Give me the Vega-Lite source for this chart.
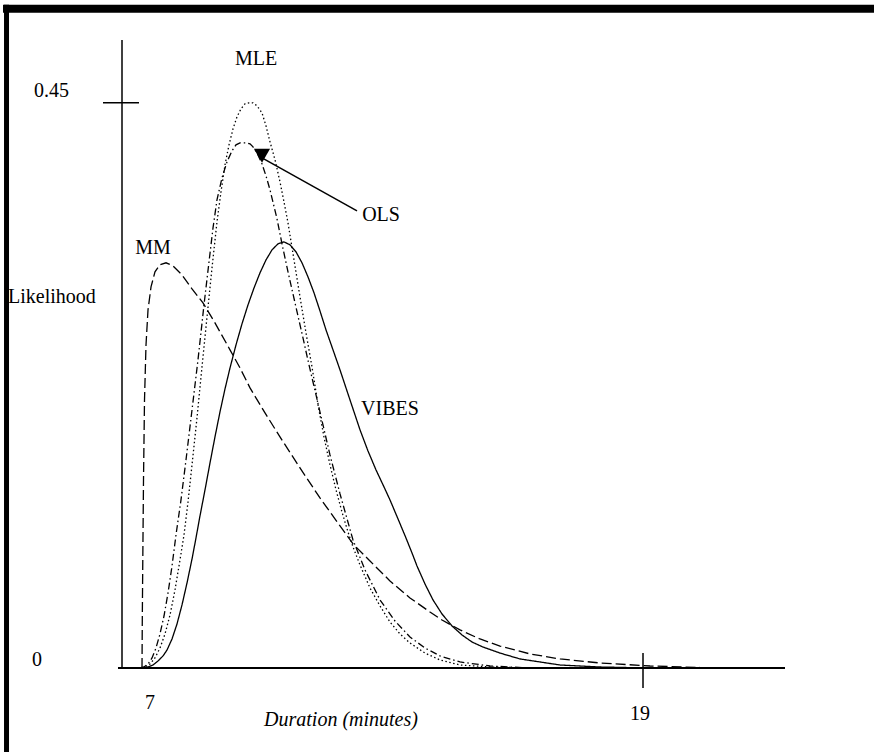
{
  "$schema": "https://vega.github.io/schema/vega-lite/v6.json",
  "width": 663,
  "height": 628,
  "autosize": {"type": "none"},
  "padding": {"left": 122, "top": 40, "right": 89, "bottom": 84},
  "background": "white",
  "config": {"view": {"stroke": null}, "font": "Liberation Serif"},
  "datasets": {
    "curves": [
      {"method": "MM", "d": 7.000, "lik": 0},
      {"method": "MM", "d": 7.007, "lik": 0.0382},
      {"method": "MM", "d": 7.019, "lik": 0.0860},
      {"method": "MM", "d": 7.036, "lik": 0.1497},
      {"method": "MM", "d": 7.060, "lik": 0.2134},
      {"method": "MM", "d": 7.096, "lik": 0.2572},
      {"method": "MM", "d": 7.144, "lik": 0.2851},
      {"method": "MM", "d": 7.216, "lik": 0.3034},
      {"method": "MM", "d": 7.311, "lik": 0.3154},
      {"method": "MM", "d": 7.431, "lik": 0.3210},
      {"method": "MM", "d": 7.575, "lik": 0.3226},
      {"method": "MM", "d": 7.742, "lik": 0.3202},
      {"method": "MM", "d": 7.958, "lik": 0.3130},
      {"method": "MM", "d": 8.198, "lik": 0.3018},
      {"method": "MM", "d": 8.461, "lik": 0.2907},
      {"method": "MM", "d": 8.748, "lik": 0.2748},
      {"method": "MM", "d": 9.108, "lik": 0.2533},
      {"method": "MM", "d": 9.347, "lik": 0.2389},
      {"method": "MM", "d": 9.587, "lik": 0.2230},
      {"method": "MM", "d": 9.946, "lik": 0.2031},
      {"method": "MM", "d": 10.305, "lik": 0.1840},
      {"method": "MM", "d": 10.784, "lik": 0.1593},
      {"method": "MM", "d": 11.263, "lik": 0.1354},
      {"method": "MM", "d": 11.743, "lik": 0.1131},
      {"method": "MM", "d": 12.054, "lik": 0.0988},
      {"method": "MM", "d": 12.461, "lik": 0.0852},
      {"method": "MM", "d": 12.940, "lik": 0.0693},
      {"method": "MM", "d": 13.419, "lik": 0.0558},
      {"method": "MM", "d": 13.898, "lik": 0.0446},
      {"method": "MM", "d": 14.186, "lik": 0.0382},
      {"method": "MM", "d": 14.617, "lik": 0.0303},
      {"method": "MM", "d": 15.096, "lik": 0.0231},
      {"method": "MM", "d": 15.575, "lik": 0.0175},
      {"method": "MM", "d": 16.293, "lik": 0.0112},
      {"method": "MM", "d": 17.012, "lik": 0.0072},
      {"method": "MM", "d": 17.970, "lik": 0.0040},
      {"method": "MM", "d": 19.168, "lik": 0.0016},
      {"method": "MM", "d": 20.365, "lik": 0.0004},
      {"method": "MM", "d": 22.162, "lik": 0},

      {"method": "MLE", "d": 7.000, "lik": 0},
      {"method": "MLE", "d": 7.072, "lik": 0.0008},
      {"method": "MLE", "d": 7.192, "lik": 0.0032},
      {"method": "MLE", "d": 7.311, "lik": 0.0080},
      {"method": "MLE", "d": 7.431, "lik": 0.0159},
      {"method": "MLE", "d": 7.551, "lik": 0.0271},
      {"method": "MLE", "d": 7.671, "lik": 0.0422},
      {"method": "MLE", "d": 7.790, "lik": 0.0621},
      {"method": "MLE", "d": 7.910, "lik": 0.0860},
      {"method": "MLE", "d": 8.006, "lik": 0.1059},
      {"method": "MLE", "d": 8.102, "lik": 0.1322},
      {"method": "MLE", "d": 8.198, "lik": 0.1617},
      {"method": "MLE", "d": 8.317, "lik": 0.1991},
      {"method": "MLE", "d": 8.437, "lik": 0.2397},
      {"method": "MLE", "d": 8.557, "lik": 0.2795},
      {"method": "MLE", "d": 8.677, "lik": 0.3186},
      {"method": "MLE", "d": 8.796, "lik": 0.3552},
      {"method": "MLE", "d": 8.892, "lik": 0.3791},
      {"method": "MLE", "d": 8.988, "lik": 0.4006},
      {"method": "MLE", "d": 9.084, "lik": 0.4165},
      {"method": "MLE", "d": 9.180, "lik": 0.4293},
      {"method": "MLE", "d": 9.275, "lik": 0.4388},
      {"method": "MLE", "d": 9.371, "lik": 0.4452},
      {"method": "MLE", "d": 9.467, "lik": 0.4492},
      {"method": "MLE", "d": 9.563, "lik": 0.4500},
      {"method": "MLE", "d": 9.659, "lik": 0.4500},
      {"method": "MLE", "d": 9.754, "lik": 0.4476},
      {"method": "MLE", "d": 9.874, "lik": 0.4420},
      {"method": "MLE", "d": 9.970, "lik": 0.4317},
      {"method": "MLE", "d": 10.066, "lik": 0.4189},
      {"method": "MLE", "d": 10.186, "lik": 0.4046},
      {"method": "MLE", "d": 10.305, "lik": 0.3871},
      {"method": "MLE", "d": 10.401, "lik": 0.3711},
      {"method": "MLE", "d": 10.497, "lik": 0.3544},
      {"method": "MLE", "d": 10.641, "lik": 0.3249},
      {"method": "MLE", "d": 10.784, "lik": 0.2955},
      {"method": "MLE", "d": 10.928, "lik": 0.2668},
      {"method": "MLE", "d": 11.072, "lik": 0.2397},
      {"method": "MLE", "d": 11.216, "lik": 0.2095},
      {"method": "MLE", "d": 11.359, "lik": 0.1840},
      {"method": "MLE", "d": 11.503, "lik": 0.1617},
      {"method": "MLE", "d": 11.647, "lik": 0.1418},
      {"method": "MLE", "d": 11.790, "lik": 0.1242},
      {"method": "MLE", "d": 11.934, "lik": 0.1083},
      {"method": "MLE", "d": 12.054, "lik": 0.0964},
      {"method": "MLE", "d": 12.222, "lik": 0.0820},
      {"method": "MLE", "d": 12.461, "lik": 0.0637},
      {"method": "MLE", "d": 12.701, "lik": 0.0494},
      {"method": "MLE", "d": 12.940, "lik": 0.0366},
      {"method": "MLE", "d": 13.180, "lik": 0.0271},
      {"method": "MLE", "d": 13.419, "lik": 0.0199},
      {"method": "MLE", "d": 13.778, "lik": 0.0119},
      {"method": "MLE", "d": 14.138, "lik": 0.0064},
      {"method": "MLE", "d": 14.617, "lik": 0.0024},
      {"method": "MLE", "d": 15.335, "lik": 0.0008},
      {"method": "MLE", "d": 16.293, "lik": 0},
      {"method": "MLE", "d": 22.162, "lik": 0},

      {"method": "OLS", "d": 6.952, "lik": 0},
      {"method": "OLS", "d": 7.048, "lik": 0.0008},
      {"method": "OLS", "d": 7.144, "lik": 0.0032},
      {"method": "OLS", "d": 7.240, "lik": 0.0080},
      {"method": "OLS", "d": 7.335, "lik": 0.0159},
      {"method": "OLS", "d": 7.431, "lik": 0.0271},
      {"method": "OLS", "d": 7.527, "lik": 0.0414},
      {"method": "OLS", "d": 7.623, "lik": 0.0597},
      {"method": "OLS", "d": 7.719, "lik": 0.0812},
      {"method": "OLS", "d": 7.814, "lik": 0.1059},
      {"method": "OLS", "d": 7.934, "lik": 0.1338},
      {"method": "OLS", "d": 8.054, "lik": 0.1657},
      {"method": "OLS", "d": 8.198, "lik": 0.2055},
      {"method": "OLS", "d": 8.341, "lik": 0.2453},
      {"method": "OLS", "d": 8.485, "lik": 0.2891},
      {"method": "OLS", "d": 8.605, "lik": 0.3234},
      {"method": "OLS", "d": 8.701, "lik": 0.3504},
      {"method": "OLS", "d": 8.796, "lik": 0.3727},
      {"method": "OLS", "d": 8.916, "lik": 0.3903},
      {"method": "OLS", "d": 9.036, "lik": 0.4030},
      {"method": "OLS", "d": 9.156, "lik": 0.4118},
      {"method": "OLS", "d": 9.251, "lik": 0.4165},
      {"method": "OLS", "d": 9.347, "lik": 0.4181},
      {"method": "OLS", "d": 9.515, "lik": 0.4181},
      {"method": "OLS", "d": 9.587, "lik": 0.4173},
      {"method": "OLS", "d": 9.659, "lik": 0.4149},
      {"method": "OLS", "d": 9.754, "lik": 0.4102},
      {"method": "OLS", "d": 9.874, "lik": 0.4014},
      {"method": "OLS", "d": 9.970, "lik": 0.3918},
      {"method": "OLS", "d": 10.066, "lik": 0.3807},
      {"method": "OLS", "d": 10.234, "lik": 0.3576},
      {"method": "OLS", "d": 10.353, "lik": 0.3377},
      {"method": "OLS", "d": 10.497, "lik": 0.3154},
      {"method": "OLS", "d": 10.665, "lik": 0.2907},
      {"method": "OLS", "d": 10.856, "lik": 0.2628},
      {"method": "OLS", "d": 11.000, "lik": 0.2413},
      {"method": "OLS", "d": 11.168, "lik": 0.2174},
      {"method": "OLS", "d": 11.335, "lik": 0.1935},
      {"method": "OLS", "d": 11.503, "lik": 0.1696},
      {"method": "OLS", "d": 11.743, "lik": 0.1386},
      {"method": "OLS", "d": 12.054, "lik": 0.1019},
      {"method": "OLS", "d": 12.341, "lik": 0.0781},
      {"method": "OLS", "d": 12.701, "lik": 0.0542},
      {"method": "OLS", "d": 13.060, "lik": 0.0374},
      {"method": "OLS", "d": 13.419, "lik": 0.0247},
      {"method": "OLS", "d": 13.778, "lik": 0.0159},
      {"method": "OLS", "d": 14.138, "lik": 0.0096},
      {"method": "OLS", "d": 14.617, "lik": 0.0048},
      {"method": "OLS", "d": 15.335, "lik": 0.0016},
      {"method": "OLS", "d": 16.293, "lik": 0},
      {"method": "OLS", "d": 22.162, "lik": 0},

      {"method": "VIBES", "d": 7.000, "lik": 0},
      {"method": "VIBES", "d": 7.144, "lik": 0.0008},
      {"method": "VIBES", "d": 7.263, "lik": 0.0024},
      {"method": "VIBES", "d": 7.383, "lik": 0.0056},
      {"method": "VIBES", "d": 7.503, "lik": 0.0096},
      {"method": "VIBES", "d": 7.599, "lik": 0.0143},
      {"method": "VIBES", "d": 7.719, "lik": 0.0231},
      {"method": "VIBES", "d": 7.838, "lik": 0.0350},
      {"method": "VIBES", "d": 7.958, "lik": 0.0502},
      {"method": "VIBES", "d": 8.078, "lik": 0.0677},
      {"method": "VIBES", "d": 8.198, "lik": 0.0868},
      {"method": "VIBES", "d": 8.293, "lik": 0.1035},
      {"method": "VIBES", "d": 8.389, "lik": 0.1211},
      {"method": "VIBES", "d": 8.509, "lik": 0.1418},
      {"method": "VIBES", "d": 8.629, "lik": 0.1633},
      {"method": "VIBES", "d": 8.748, "lik": 0.1840},
      {"method": "VIBES", "d": 8.868, "lik": 0.2039},
      {"method": "VIBES", "d": 8.988, "lik": 0.2222},
      {"method": "VIBES", "d": 9.108, "lik": 0.2389},
      {"method": "VIBES", "d": 9.251, "lik": 0.2572},
      {"method": "VIBES", "d": 9.395, "lik": 0.2740},
      {"method": "VIBES", "d": 9.539, "lik": 0.2891},
      {"method": "VIBES", "d": 9.683, "lik": 0.3026},
      {"method": "VIBES", "d": 9.826, "lik": 0.3146},
      {"method": "VIBES", "d": 9.970, "lik": 0.3249},
      {"method": "VIBES", "d": 10.114, "lik": 0.3329},
      {"method": "VIBES", "d": 10.257, "lik": 0.3377},
      {"method": "VIBES", "d": 10.401, "lik": 0.3393},
      {"method": "VIBES", "d": 10.545, "lik": 0.3369},
      {"method": "VIBES", "d": 10.689, "lik": 0.3313},
      {"method": "VIBES", "d": 10.832, "lik": 0.3226},
      {"method": "VIBES", "d": 10.976, "lik": 0.3114},
      {"method": "VIBES", "d": 11.120, "lik": 0.2987},
      {"method": "VIBES", "d": 11.263, "lik": 0.2843},
      {"method": "VIBES", "d": 11.407, "lik": 0.2692},
      {"method": "VIBES", "d": 11.575, "lik": 0.2533},
      {"method": "VIBES", "d": 11.743, "lik": 0.2373},
      {"method": "VIBES", "d": 11.910, "lik": 0.2206},
      {"method": "VIBES", "d": 12.078, "lik": 0.2039},
      {"method": "VIBES", "d": 12.222, "lik": 0.1896},
      {"method": "VIBES", "d": 12.413, "lik": 0.1728},
      {"method": "VIBES", "d": 12.605, "lik": 0.1577},
      {"method": "VIBES", "d": 12.796, "lik": 0.1442},
      {"method": "VIBES", "d": 12.940, "lik": 0.1338},
      {"method": "VIBES", "d": 13.132, "lik": 0.1187},
      {"method": "VIBES", "d": 13.323, "lik": 0.1035},
      {"method": "VIBES", "d": 13.467, "lik": 0.0916},
      {"method": "VIBES", "d": 13.587, "lik": 0.0812},
      {"method": "VIBES", "d": 13.778, "lik": 0.0669},
      {"method": "VIBES", "d": 13.970, "lik": 0.0542},
      {"method": "VIBES", "d": 14.186, "lik": 0.0430},
      {"method": "VIBES", "d": 14.425, "lik": 0.0335},
      {"method": "VIBES", "d": 14.665, "lik": 0.0263},
      {"method": "VIBES", "d": 14.904, "lik": 0.0207},
      {"method": "VIBES", "d": 15.168, "lik": 0.0167},
      {"method": "VIBES", "d": 15.575, "lik": 0.0119},
      {"method": "VIBES", "d": 16.054, "lik": 0.0072},
      {"method": "VIBES", "d": 16.533, "lik": 0.0048},
      {"method": "VIBES", "d": 17.012, "lik": 0.0024},
      {"method": "VIBES", "d": 17.970, "lik": 0.0008},
      {"method": "VIBES", "d": 19.168, "lik": 0},
      {"method": "VIBES", "d": 22.162, "lik": 0}
    ]
  },
  "layer": [
    {
      "data": {"values": [{"x": 3.671, "x2": 24.533, "y": 0.5249}]},
      "mark": {"type": "rule", "strokeWidth": 8, "color": "black"},
      "encoding": {
        "x": {"field": "x", "type": "quantitative", "scale": {"domain": [6.521, 22.401], "nice": false, "zero": false}, "axis": null},
        "x2": {"field": "x2"},
        "y": {"field": "y", "type": "quantitative", "scale": {"domain": [0, 0.5], "nice": false, "zero": false}, "axis": null}
      }
    },
    {
      "data": {"values": [{"x": 3.755, "y": 0.528, "y2": -0.0669}]},
      "mark": {"type": "rule", "strokeWidth": 5, "color": "black"},
      "encoding": {
        "x": {"field": "x", "type": "quantitative", "axis": null},
        "y": {"field": "y", "type": "quantitative", "axis": null},
        "y2": {"field": "y2"}
      }
    },
    {
      "data": {"values": [
        {"x": 6.521, "x2": 6.521, "y": 0, "y2": 0.5},
        {"x": 6.066, "x2": 6.928, "y": 0.45, "y2": 0.45},
        {"x": 19, "x2": 19, "y": 0.0119, "y2": -0.0159},
        {"x": 12.150, "x2": 9.874, "y": 0.3640, "y2": 0.4062}
      ]},
      "mark": {"type": "rule", "strokeWidth": 1.5, "color": "black"},
      "encoding": {
        "x": {"field": "x", "type": "quantitative", "axis": null},
        "x2": {"field": "x2"},
        "y": {"field": "y", "type": "quantitative", "axis": null},
        "y2": {"field": "y2"}
      }
    },
    {
      "data": {"values": [{"x": 6.425, "x2": 22.401, "y": 0}]},
      "mark": {"type": "rule", "strokeWidth": 2, "color": "black"},
      "encoding": {
        "x": {"field": "x", "type": "quantitative", "axis": null},
        "x2": {"field": "x2"},
        "y": {"field": "y", "type": "quantitative", "axis": null}
      }
    },
    {
      "data": {"name": "curves"},
      "mark": {"type": "line", "color": "black", "strokeWidth": 1.3},
      "encoding": {
        "x": {"field": "d", "type": "quantitative", "axis": null},
        "y": {"field": "lik", "type": "quantitative", "axis": null},
        "detail": {"field": "method"},
        "strokeDash": {
          "field": "method", "type": "nominal", "legend": null,
          "scale": {"domain": ["MLE", "OLS", "MM", "VIBES"], "range": [[1.5, 2.5], [7, 3, 1.5, 3], [10, 4], [1, 0]]}
        }
      }
    },
    {
      "data": {"values": [{"x": 9.874, "y": 0.4078}]},
      "mark": {"type": "point", "shape": "triangle-down", "filled": true, "color": "black", "opacity": 1, "size": 260},
      "encoding": {
        "x": {"field": "x", "type": "quantitative", "axis": null},
        "y": {"field": "y", "type": "quantitative", "axis": null}
      }
    },
    {
      "data": {"values": [
        {"label": "0.45", "x": 4.413, "y": 0.4595},
        {"label": "0", "x": 4.365, "y": 0.0064},
        {"label": "Likelihood", "x": 3.790, "y": 0.2955}
      ]},
      "mark": {"type": "text", "align": "left", "baseline": "middle", "fontSize": 20, "color": "black"},
      "encoding": {
        "x": {"field": "x", "type": "quantitative", "axis": null},
        "y": {"field": "y", "type": "quantitative", "axis": null},
        "text": {"field": "label"}
      }
    },
    {
      "data": {"values": [
        {"label": "MLE", "x": 9.731, "y": 0.4850},
        {"label": "OLS", "x": 12.725, "y": 0.3608},
        {"label": "MM", "x": 7.263, "y": 0.3345},
        {"label": "VIBES", "x": 12.940, "y": 0.2063},
        {"label": "7", "x": 7.192, "y": -0.0279},
        {"label": "19", "x": 18.928, "y": -0.0366}
      ]},
      "mark": {"type": "text", "align": "center", "baseline": "middle", "fontSize": 20, "color": "black"},
      "encoding": {
        "x": {"field": "x", "type": "quantitative", "axis": null},
        "y": {"field": "y", "type": "quantitative", "axis": null},
        "text": {"field": "label"}
      }
    },
    {
      "data": {"values": [{"label": "Duration (minutes)", "x": 11.766, "y": -0.0414}]},
      "mark": {"type": "text", "align": "center", "baseline": "middle", "fontSize": 20, "fontStyle": "italic", "color": "black"},
      "encoding": {
        "x": {"field": "x", "type": "quantitative", "axis": null},
        "y": {"field": "y", "type": "quantitative", "axis": null},
        "text": {"field": "label"}
      }
    }
  ]
}
